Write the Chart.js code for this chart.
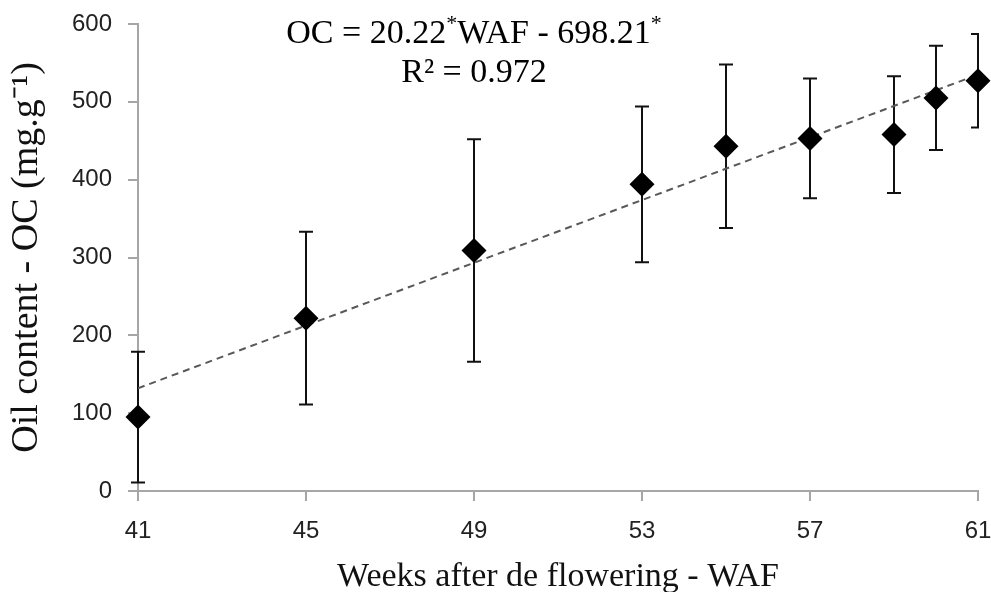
<!DOCTYPE html>
<html lang="en">

<head>
    <meta charset="UTF-8">
    <title>oil content</title>
    <script src="https://cdn.jsdelivr.net/npm/chart.js"></script>
    <style>
        html, body { margin: 0; padding: 0; background: #fff; }
        .canvas { width: 991px; height: 592px; }
    </style>
</head>

<body>
    <div class="canvas">
        <canvas id="myChart" width="991" height="592"></canvas>
    </div>

    <script>
        // values
        const weeks = [41, 45, 49, 53, 55, 57, 59, 60, 61];
        const oilContent = [95, 222, 309, 394, 443, 453, 458, 505, 527];
        const errors = [84, 111, 143, 100, 105, 77, 75, 67, 60];
        const trendWeeks = [41, 61];
        const trendValues = [132, 535];
        const xTicks = [41, 45, 49, 53, 57, 61];
        const yTicks = [0, 100, 200, 300, 400, 500, 600];

        const axisGray = '#a6a6a6';
        const serif = '"Liberation Serif", "Times New Roman", serif';
        const sans = '"Liberation Sans", Arial, sans-serif';

        // error bars with caps, drawn under the diamonds
        const errorBars = {
            id: 'errorBars',
            beforeDatasetsDraw(chart) {
                const { ctx, chartArea, scales: { x, y } } = chart;
                ctx.save();
                ctx.beginPath();
                ctx.rect(chartArea.left - 20, 0, chartArea.right - chartArea.left + 21, chart.height);
                ctx.clip();
                ctx.strokeStyle = '#111';
                ctx.lineWidth = 2;
                weeks.forEach((w, i) => {
                    const px = x.getPixelForValue(w);
                    const top = y.getPixelForValue(oilContent[i] + errors[i]);
                    const bot = y.getPixelForValue(oilContent[i] - errors[i]);
                    ctx.beginPath();
                    ctx.moveTo(px, top);
                    ctx.lineTo(px, bot);
                    ctx.moveTo(px - 7, top);
                    ctx.lineTo(px + 7, top);
                    ctx.moveTo(px - 7, bot);
                    ctx.lineTo(px + 7, bot);
                    ctx.stroke();
                });
                ctx.restore();
            }
        };

        // regression equation, with raised asterisks
        const equation = {
            id: 'equation',
            afterDraw(chart) {
                const { ctx, scales: { x } } = chart;
                const cx = x.getPixelForValue(49);
                const parts = [['OC = 20.22', false], ['*', true], ['WAF - 698.21', false], ['*', true]];
                ctx.save();
                ctx.fillStyle = '#000';
                ctx.textBaseline = 'alphabetic';
                const big = '34px ' + serif;
                const small = '22px ' + serif;
                let total = 0;
                parts.forEach(p => { ctx.font = p[1] ? small : big; total += ctx.measureText(p[0]).width; });
                let px = cx - total / 2;
                parts.forEach(p => {
                    ctx.font = p[1] ? small : big;
                    ctx.fillText(p[0], px, p[1] ? 30 : 43);
                    px += ctx.measureText(p[0]).width;
                });
                ctx.font = big;
                ctx.textAlign = 'center';
                ctx.fillText('R² = 0.972', cx, 82);
                ctx.restore();
            }
        };

        const myChart = new Chart('myChart', {
            data: {
                datasets: [{
                    type: 'scatter',
                    data: weeks.map((w, i) => ({ x: w, y: oilContent[i] })),
                    pointStyle: 'rectRot',
                    pointRadius: 12.5,
                    pointHoverRadius: 12.5,
                    backgroundColor: '#000',
                    borderColor: '#000',
                    borderWidth: 0,
                    clip: false,
                    order: 1
                }, {
                    type: 'line',
                    data: trendWeeks.map((w, i) => ({ x: w, y: trendValues[i] })),
                    borderColor: '#595959',
                    borderWidth: 2,
                    borderDash: [7, 5],
                    pointRadius: 0,
                    fill: false,
                    order: 2
                }]
            },
            options: {
                responsive: false,
                animation: false,
                events: [],
                layout: {
                    padding: { top: 24, right: 13, left: 0, bottom: 0 }
                },
                plugins: {
                    legend: { display: false },
                    tooltip: { enabled: false }
                },
                scales: {
                    x: {
                        type: 'linear',
                        min: 41,
                        max: 61,
                        afterBuildTicks: axis => { axis.ticks = xTicks.map(v => ({ value: v })); },
                        afterFit: axis => {
                            axis.height = 101;
                            axis.paddingLeft = 0;
                            axis.paddingRight = 0;
                        },
                        border: { color: axisGray, width: 2 },
                        grid: { drawOnChartArea: false, drawTicks: true, tickLength: 10, color: axisGray, lineWidth: 2 },
                        ticks: {
                            padding: 16,
                            color: '#222',
                            font: { family: sans, size: 24 }
                        },
                        title: {
                            display: true,
                            text: 'Weeks after de flowering - WAF',
                            color: '#111',
                            font: { family: serif, size: 34, lineHeight: 0.9 },
                            padding: { top: 0, bottom: 0 }
                        }
                    },
                    y: {
                        min: 0,
                        max: 600,
                        afterBuildTicks: axis => { axis.ticks = yTicks.map(v => ({ value: v })); },
                        afterFit: axis => {
                            axis.width = 138;
                            axis.paddingTop = 0;
                            axis.paddingBottom = 0;
                        },
                        border: { color: axisGray, width: 2 },
                        grid: { drawOnChartArea: false, drawTicks: true, tickLength: 10, color: axisGray, lineWidth: 2 },
                        ticks: {
                            padding: 16,
                            color: '#222',
                            font: { family: sans, size: 24 }
                        },
                        title: {
                            display: true,
                            text: 'Oil content - OC (mg.g⁻¹)',
                            color: '#111',
                            font: { family: serif, size: 38, lineHeight: 1 },
                            padding: { top: 8, bottom: 0 }
                        }
                    }
                }
            },
            plugins: [errorBars, equation]
        });
    </script>
</body>

</html>
